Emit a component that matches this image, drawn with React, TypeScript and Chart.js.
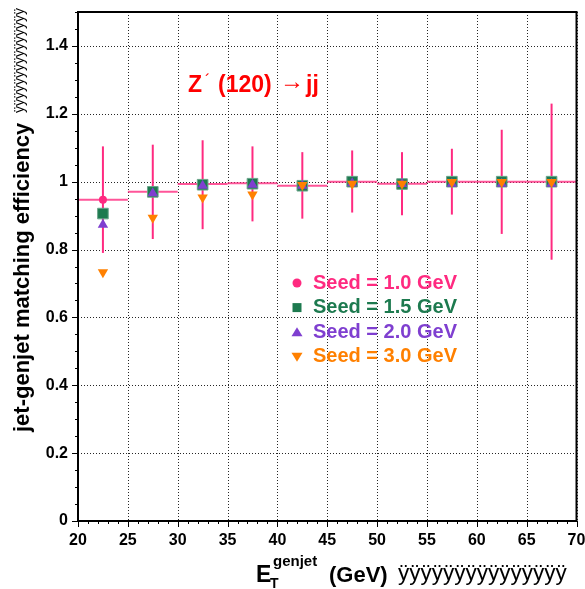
import React, { useEffect, useRef } from 'react';
import { Chart, registerables } from 'chart.js';

Chart.register(...registerables);

// ---- data ----
const binCenters = [22.5, 27.5, 32.5, 37.5, 42.5, 47.5, 52.5, 57.5, 62.5, 67.5];
const binHalfWidth = 2.5;
const seed10 = [0.947, 0.970, 0.993, 0.995, 0.988, 1.0, 0.994, 1.0, 1.0, 1.0];
const seed10ErrHigh = [1.104, 1.109, 1.122, 1.104, 1.087, 1.092, 1.087, 1.097, 1.153, 1.230];
const seed10ErrLow = [0.790, 0.831, 0.860, 0.883, 0.891, 0.909, 0.901, 0.903, 0.846, 0.770];
const seed15 = [0.906, 0.970, 0.991, 0.994, 0.988, 1.0, 0.993, 1.0, 1.0, 1.0];
const seed20 = [0.873, 0.966, 0.988, 0.991, 0.988, 0.995, 0.993, 0.994, 0.994, 0.994];
const seed30 = [0.733, 0.894, 0.953, 0.962, 0.990, 0.994, 0.994, 0.999, 0.999, 0.999];

const xTicks = [20, 25, 30, 35, 40, 45, 50, 55, 60, 65, 70];
const xTickLabels = ['20', '25', '30', '35', '40', '45', '50', '55', '60', '65', '70'];
const yTicks = [0, 0.2, 0.4, 0.6, 0.8, 1.0, 1.2, 1.4];
const yTickLabels = ['0', '0.2', '0.4', '0.6', '0.8', '1', '1.2', '1.4'];
const xMinorStep = 1;
const yMinorStep = 0.05;

const legendLabels = ['Seed = 1.0 GeV', 'Seed = 1.5 GeV', 'Seed = 2.0 GeV', 'Seed = 3.0 GeV'];
const yTitle = 'jet-genjet matching efficiency';
const yTitleTail = 'ÿÿÿÿÿÿÿÿÿÿÿÿÿÿÿ';
const xTitleTail = 'ÿÿÿÿÿÿÿÿÿÿÿÿÿÿÿ';

// ---- styles ----
const FONT = '"Liberation Sans", Arial, Helvetica, sans-serif';
const PINK = '#ff2a80';
const GREEN = '#1d7a4f';
const PURPLE = '#7f3fd0';
const ORANGE = '#ff8000';
const RED = '#ff0000';

function drawMarker(ctx: CanvasRenderingContext2D, kind: string, x: number, y: number, color: string) {
  ctx.fillStyle = color;
  ctx.beginPath();
  if (kind === 'circle') {
    ctx.arc(x, y, 4.5, 0, Math.PI * 2);
  } else if (kind === 'square') {
    ctx.rect(x - 4.5, y - 4.5, 9, 9);
  } else if (kind === 'up') {
    ctx.moveTo(x, y - 5);
    ctx.lineTo(x + 5.5, y + 4);
    ctx.lineTo(x - 5.5, y + 4);
    ctx.closePath();
  } else {
    ctx.moveTo(x, y + 5);
    ctx.lineTo(x + 5.5, y - 4);
    ctx.lineTo(x - 5.5, y - 4);
    ctx.closePath();
  }
  ctx.fill();
}

const rootPlugin = {
  id: 'rootStyle',
  beforeDatasetsDraw(chart: any) {
    const { ctx, chartArea: a, scales } = chart;
    const x = scales.x;
    const y = scales.y;
    ctx.save();
    // dotted grid
    ctx.strokeStyle = 'rgba(0,0,0,0.85)';
    ctx.lineWidth = 1;
    ctx.setLineDash([1, 2]);
    xTicks.forEach((v) => {
      const px = Math.round(x.getPixelForValue(v)) + 0.5;
      ctx.beginPath();
      ctx.moveTo(px, a.top);
      ctx.lineTo(px, a.bottom);
      ctx.stroke();
    });
    yTicks.forEach((v) => {
      const py = Math.round(y.getPixelForValue(v)) + 0.5;
      ctx.beginPath();
      ctx.moveTo(a.left, py);
      ctx.lineTo(a.right, py);
      ctx.stroke();
    });
    ctx.setLineDash([]);
    // error bars & bin widths for seed 1.0
    ctx.strokeStyle = PINK;
    ctx.lineWidth = 2;
    binCenters.forEach((c, i) => {
      const px = x.getPixelForValue(c);
      ctx.beginPath();
      ctx.moveTo(px, y.getPixelForValue(seed10ErrHigh[i]));
      ctx.lineTo(px, y.getPixelForValue(seed10ErrLow[i]));
      ctx.stroke();
    });
    ctx.strokeStyle = 'rgba(255,42,128,0.8)';
    binCenters.forEach((c, i) => {
      const py = y.getPixelForValue(seed10[i]);
      ctx.beginPath();
      ctx.moveTo(x.getPixelForValue(c - binHalfWidth), py);
      ctx.lineTo(x.getPixelForValue(c + binHalfWidth), py);
      ctx.stroke();
    });
    ctx.restore();
  },
  afterDatasetsDraw(chart: any) {
    const { ctx, chartArea: a, scales } = chart;
    const x = scales.x;
    const y = scales.y;
    ctx.save();
    // frame
    ctx.strokeStyle = '#000';
    ctx.lineWidth = 2;
    ctx.strokeRect(a.left, a.top, a.right - a.left, a.bottom - a.top);
    // tick marks (outward)
    ctx.lineWidth = 1;
    for (let v = x.min; v <= x.max + 1e-9; v += xMinorStep) {
      const major = xTicks.some((t) => Math.abs(t - v) < 1e-6);
      const px = Math.round(x.getPixelForValue(v)) + 0.5;
      ctx.beginPath();
      ctx.moveTo(px, a.bottom);
      ctx.lineTo(px, a.bottom + (major ? 6 : 3));
      ctx.stroke();
    }
    for (let k = 0; k * yMinorStep <= y.max + 1e-9; k++) {
      const v = k * yMinorStep;
      const major = yTicks.some((t) => Math.abs(t - v) < 1e-6);
      const py = Math.round(y.getPixelForValue(v)) + 0.5;
      ctx.beginPath();
      ctx.moveTo(a.left, py);
      ctx.lineTo(a.left - (major ? 6 : 3), py);
      ctx.stroke();
    }

    // legend
    const kinds = ['circle', 'square', 'up', 'down'];
    const colors = [PINK, GREEN, PURPLE, ORANGE];
    ctx.font = `bold 20px ${FONT}`;
    ctx.textBaseline = 'middle';
    ctx.textAlign = 'left';
    legendLabels.forEach((lab, i) => {
      const ly = 283 + i * 24.6;
      drawMarker(ctx, kinds[i], 297, ly, colors[i]);
      ctx.fillStyle = colors[i];
      ctx.fillText(lab, 313, ly);
    });

    // annotation Z'(120) -> jj
    ctx.fillStyle = RED;
    ctx.textBaseline = 'alphabetic';
    ctx.font = `bold 23px ${FONT}`;
    ctx.fillText('Z', 188, 92);
    ctx.font = `16px ${FONT}`;
    ctx.fillText('´', 205, 86);
    ctx.font = `bold 23px ${FONT}`;
    ctx.fillText('(120)', 218, 92);
    ctx.font = `24px ${FONT}`;
    ctx.fillText('→', 280, 89);
    ctx.font = `bold 23px ${FONT}`;
    ctx.fillText('jj', 306, 92);

    // x title
    ctx.fillStyle = '#000';
    ctx.font = `bold 23px ${FONT}`;
    ctx.fillText('E', 256, 582);
    ctx.font = `bold 14px ${FONT}`;
    ctx.fillText('T', 270, 588);
    ctx.font = `bold 15px ${FONT}`;
    ctx.fillText('genjet', 273, 566);
    ctx.font = `bold 22px ${FONT}`;
    ctx.fillText('(GeV)', 329, 582);
    ctx.font = `22.5px ${FONT}`;
    ctx.fillText(xTitleTail, 398, 580);

    // y title
    ctx.save();
    ctx.translate(29, 432);
    ctx.rotate(-Math.PI / 2);
    ctx.font = `bold 22px ${FONT}`;
    ctx.fillText(yTitle, 0, 0);
    ctx.font = `14px ${FONT}`;
    ctx.fillText(yTitleTail, 319, -5);
    ctx.restore();

    ctx.restore();
  },
};

export default function App() {
  const ref = useRef<HTMLCanvasElement | null>(null);
  useEffect(() => {
    if (!ref.current) return;
    const mk = (arr: number[]) => binCenters.map((c, i) => ({ x: c, y: arr[i] }));
    const tickFont = { family: FONT, size: 16, weight: 'bold' as const };
    const chart = new Chart(ref.current, {
      type: 'scatter',
      data: {
        datasets: [
          { label: legendLabels[0], data: mk(seed10), pointStyle: 'circle', pointRadius: 4, backgroundColor: PINK, borderColor: PINK, borderWidth: 0, order: 3 },
          { label: legendLabels[1], data: mk(seed15), pointStyle: 'rect', pointRadius: 7.5, backgroundColor: GREEN, borderColor: '#6aa58a', borderWidth: 1, order: 2 },
          { label: legendLabels[2], data: mk(seed20), pointStyle: 'triangle', pointRadius: 6, backgroundColor: PURPLE, borderColor: PURPLE, borderWidth: 0, order: 1 },
          { label: legendLabels[3], data: mk(seed30), pointStyle: 'triangle', rotation: 180, pointRadius: 6, backgroundColor: ORANGE, borderColor: ORANGE, borderWidth: 0, order: 0 },
        ],
      },
      options: {
        responsive: false,
        animation: false,
        devicePixelRatio: 1,
        layout: { padding: { left: 0, right: 8, top: 12, bottom: 0 } },
        plugins: { legend: { display: false }, tooltip: { enabled: false } },
        scales: {
          x: {
            type: 'linear',
            min: 20,
            max: 70,
            grid: { display: false, drawTicks: false },
            border: { display: false },
            afterBuildTicks: (s: any) => { s.ticks = xTicks.map((v) => ({ value: v })); },
            afterFit: (s: any) => { s.height = 68; s.paddingLeft = 0; s.paddingRight = 0; },
            ticks: {
              font: tickFont,
              color: '#000',
              padding: 10,
              maxRotation: 0,
              autoSkip: false,
              callback: (v: any) => xTickLabels[xTicks.indexOf(Number(v))],
            },
          },
          y: {
            type: 'linear',
            min: 0,
            max: 1.5,
            grid: { display: false, drawTicks: false },
            border: { display: false },
            afterBuildTicks: (s: any) => { s.ticks = yTicks.map((v) => ({ value: v })); },
            afterFit: (s: any) => { s.width = 78; s.paddingTop = 0; s.paddingBottom = 0; },
            ticks: {
              font: tickFont,
              color: '#000',
              padding: 10,
              autoSkip: false,
              callback: (v: any) => yTickLabels[yTicks.findIndex((t) => Math.abs(t - Number(v)) < 1e-9)],
            },
          },
        },
      },
      plugins: [rootPlugin],
    } as any);
    return () => chart.destroy();
  }, []);
  return (
    <canvas
      ref={ref}
      width={585}
      height={589}
      style={{ position: 'fixed', left: 0, top: 0, width: 585, height: 589, background: '#fff' }}
    />
  );
}
